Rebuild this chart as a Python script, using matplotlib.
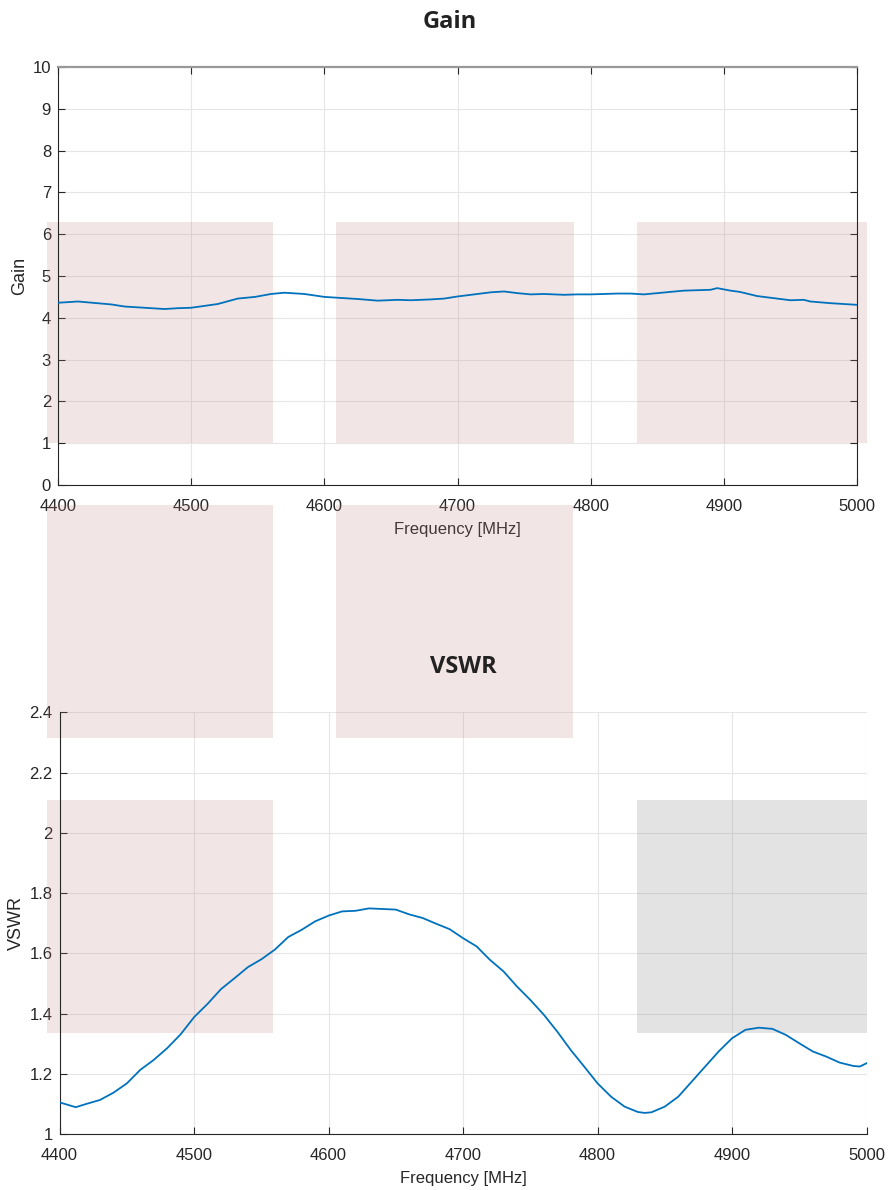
import matplotlib.pyplot as plt
from matplotlib.patches import Rectangle

# gain trace
gain_freq = [4400, 4415, 4440, 4450, 4460, 4470, 4480, 4490, 4500, 4520, 4535, 4548,
             4560, 4570, 4585, 4600, 4610, 4625, 4640, 4655, 4665, 4680, 4690, 4700,
             4715, 4725, 4735, 4745, 4755, 4765, 4780, 4790, 4800, 4820, 4830, 4840,
             4850, 4870, 4880, 4890, 4895, 4905, 4912, 4925, 4940, 4950, 4960, 4965,
             4980, 4990, 5000]
gain_vals = [4.36, 4.39, 4.32, 4.27, 4.25, 4.23, 4.21, 4.23, 4.24, 4.33, 4.46, 4.50,
             4.57, 4.60, 4.57, 4.50, 4.48, 4.45, 4.41, 4.43, 4.42, 4.44, 4.46, 4.51,
             4.57, 4.61, 4.63, 4.59, 4.56, 4.57, 4.55, 4.56, 4.56, 4.58, 4.58, 4.56,
             4.59, 4.65, 4.66, 4.67, 4.71, 4.65, 4.62, 4.52, 4.46, 4.42, 4.43, 4.39,
             4.35, 4.33, 4.31]

# vswr trace
vswr_freq = [4400, 4412, 4420, 4430, 4440, 4450, 4460, 4470, 4480, 4490, 4500, 4510,
             4520, 4530, 4540, 4550, 4560, 4570, 4580, 4590, 4600, 4610, 4620, 4630,
             4640, 4650, 4660, 4670, 4680, 4690, 4700, 4710, 4720, 4730, 4740, 4750,
             4760, 4770, 4780, 4790, 4800, 4810, 4820, 4830, 4835, 4840, 4850, 4860,
             4870, 4880, 4890, 4900, 4910, 4920, 4930, 4940, 4950, 4960, 4970, 4980,
             4990, 4995, 5000]
vswr_vals = [1.105, 1.089, 1.100, 1.113, 1.137, 1.168, 1.213, 1.246, 1.285, 1.331, 1.388, 1.432,
             1.481, 1.517, 1.554, 1.580, 1.612, 1.654, 1.678, 1.706, 1.725, 1.739, 1.741, 1.749,
             1.747, 1.745, 1.729, 1.717, 1.698, 1.680, 1.650, 1.623, 1.578, 1.540, 1.490, 1.445,
             1.396, 1.340, 1.279, 1.224, 1.168, 1.124, 1.091, 1.073, 1.070, 1.072, 1.091, 1.124,
             1.174, 1.224, 1.274, 1.318, 1.346, 1.353, 1.349, 1.329, 1.301, 1.274, 1.257, 1.237,
             1.226, 1.224, 1.235]

freq_ticks = [4400, 4500, 4600, 4700, 4800, 4900, 5000]
gain_ticks = list(range(0, 11))
vswr_ticks = [1, 1.2, 1.4, 1.6, 1.8, 2, 2.2, 2.4]
vswr_tick_labels = ['1', '1.2', '1.4', '1.6', '1.8', '2', '2.2', '2.4']

# shaded boxes: (x0, x1, y0, y1) in the panel's data units
gain_boxes = [(4391.7, 4561.8, 1.0, 6.29), (4608.8, 4787.3, 1.0, 6.29), (4834.6, 5007.2, 1.0, 6.29)]
mid_boxes = [(4390.6, 4559.0, 2.315, 3.088), (4605.5, 4782.0, 2.315, 3.088)]
vswr_boxes = [(4390.6, 4559.0, 1.335, 2.109, 'pink'), (4829.0, 5000.0, 1.335, 2.109, 'gray')]

plt.rcParams['font.family'] = ['Liberation Sans', 'DejaVu Sans']

LINE = '#0072BD'
PINK = '#C08080'
GREY = '#777777'
AXC = '#262626'


def style_axes(ax, box):
    ax.grid(True, color='#E6E6E6', linewidth=0.8)
    ax.set_axisbelow(True)
    ax.tick_params(direction='in', length=5, labelsize=12, colors=AXC,
                   top=box, right=box)
    ax.tick_params(axis='x', pad=10)
    ax.tick_params(axis='y', pad=5)
    for side in ['top', 'right']:
        ax.spines[side].set_visible(box)
    for sp in ax.spines.values():
        sp.set_color(AXC)
        sp.set_linewidth(0.8)
    ax.set_xlabel('Frequency [MHz]', fontsize=12, color=AXC, labelpad=6)


def add_box(ax, x0, x1, y0, y1, color):
    ax.add_patch(Rectangle((x0, y0), x1 - x0, y1 - y0, facecolor=color, alpha=0.2,
                           edgecolor='none', clip_on=False, zorder=1))


fig = plt.figure(figsize=(8.9, 11.9), dpi=100)

ax1 = fig.add_axes([58 / 890, 1 - 485 / 1190, 799 / 890, 418 / 1190])
ax1.plot(gain_freq, gain_vals, color=LINE, linewidth=1.3, zorder=3)
ax1.set_xlim(4400, 5000)
ax1.set_ylim(0, 10)
ax1.set_xticks(freq_ticks)
ax1.set_yticks(gain_ticks)
style_axes(ax1, True)
ax1.spines['top'].set_color('#999999')
ax1.spines['top'].set_linewidth(1.6)
ax1.set_ylabel('Gain', fontsize=13, color=AXC, labelpad=3)
ax1.set_title('Gain', fontsize=17, fontweight='bold', family=['Open Sans', 'DejaVu Sans'],
              color='#222222', pad=28, x=0.49)
for x0, x1, y0, y1 in gain_boxes:
    add_box(ax1, x0, x1, y0, y1, PINK)

ax2 = fig.add_axes([59.6 / 890, 1 - 1134 / 1190, 807 / 890, 421.7 / 1190])
ax2.set_facecolor('none')
ax2.plot(vswr_freq, vswr_vals, color=LINE, linewidth=1.3, zorder=3)
ax2.set_xlim(4400, 5000)
ax2.set_ylim(1, 2.4)
ax2.set_xticks(freq_ticks)
ax2.set_yticks(vswr_ticks)
ax2.set_yticklabels(vswr_tick_labels)
style_axes(ax2, False)
ax2.set_ylabel('VSWR', fontsize=13, color=AXC, labelpad=3)
ax2.set_title('VSWR', fontsize=17, fontweight='bold', family=['Open Sans', 'DejaVu Sans'],
              color='#222222', pad=28)
for x0, x1, y0, y1 in mid_boxes:
    add_box(ax2, x0, x1, y0, y1, PINK)
for x0, x1, y0, y1, c in vswr_boxes:
    add_box(ax2, x0, x1, y0, y1, PINK if c == 'pink' else GREY)

fig.savefig('out.png', dpi=100)
